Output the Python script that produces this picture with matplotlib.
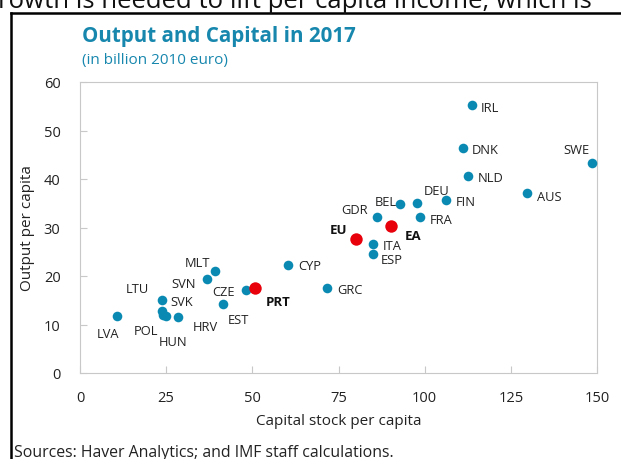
import matplotlib
matplotlib.use("Agg")
import matplotlib.pyplot as plt
from matplotlib.lines import Line2D

plt.rcParams['font.family'] = ['Open Sans', 'DejaVu Sans']

# data (billion 2010 euro per capita)
countries = ['LVA', 'LTU', 'SVK', 'POL', 'HUN', 'HRV', 'SVN', 'MLT', 'EST', 'CZE',
             'CYP', 'GRC', 'IRL', 'DNK', 'SWE', 'NLD', 'AUS', 'FIN', 'DEU', 'BEL',
             'GDR', 'FRA', 'ITA', 'ESP']
capital = [10.7, 23.7, 23.9, 24.1, 25.0, 28.5, 36.8, 39.2, 41.4, 48.1,
           60.4, 71.8, 113.6, 111.0, 148.5, 112.7, 129.7, 106.1, 97.8, 92.9,
           86.3, 98.7, 85.0, 85.0]
output = [11.8, 15.1, 12.8, 12.0, 11.8, 11.5, 19.3, 21.0, 14.3, 17.2,
          22.3, 17.5, 55.3, 46.3, 43.4, 40.6, 37.1, 35.7, 35.1, 34.8,
          32.1, 32.2, 26.5, 24.6]

aggregates = ['PRT', 'EU', 'EA']
agg_capital = [50.8, 80.0, 90.3]
agg_output = [17.5, 27.7, 30.4]

# label offsets in pixels (dx right, dy down)
offsets = {
    'LVA': (-9, 18), 'LTU': (-24, -11), 'SVK': (19, -9), 'POL': (-17, 16),
    'HUN': (7, 26), 'HRV': (27, 9), 'SVN': (-23, 4), 'MLT': (-18, -9),
    'EST': (16, 16), 'CZE': (-22, 2), 'CYP': (22, 1), 'GRC': (22, 1),
    'IRL': (18, 3), 'DNK': (23, 1), 'SWE': (-15, -13), 'NLD': (22, 1),
    'AUS': (22, 3), 'FIN': (20, 2), 'DEU': (20, -12), 'BEL': (-14, -3),
    'GDR': (-23, -8), 'FRA': (21, 3), 'ITA': (19, 1), 'ESP': (19, 6),
    'PRT': (23, 13), 'EU': (-17, -9), 'EA': (22, 10),
}

blue = '#0a8ab3'
red = '#e8000b'

fig = plt.figure(figsize=(6.21, 4.60), dpi=100)
ax = fig.add_axes([80 / 621, 1 - 374 / 460, 517 / 621, 291 / 460])

ax.scatter(capital, output, s=48, color=blue, zorder=3, linewidths=0)
ax.scatter(agg_capital, agg_output, s=80, color=red, zorder=4, linewidths=0)

px = 0.72  # points per pixel
for name, x, y in zip(countries, capital, output):
    dx, dy = offsets[name]
    ax.annotate(name, (x, y), xytext=(dx * px, -dy * px), textcoords='offset points',
                ha='center', va='center', fontsize=9.3, color='#222222')
for name, x, y in zip(aggregates, agg_capital, agg_output):
    dx, dy = offsets[name]
    ax.annotate(name, (x, y), xytext=(dx * px, -dy * px), textcoords='offset points',
                ha='center', va='center', fontsize=9.5, fontweight='bold', color='#111111')

ax.set_xlim(0, 150)
ax.set_ylim(0, 60)
ax.set_xticks(range(0, 151, 25))
ax.set_yticks(range(0, 61, 10))
for s in ax.spines.values():
    s.set_color('#c8c8c8')
ax.tick_params(direction='in', length=5, color='#c8c8c8', labelsize=10.5,
               labelcolor='#222222', pad=12)
ax.tick_params(axis='y', pad=14)
ax.set_xlabel('Capital stock per capita', fontsize=11, color='#222222', labelpad=6)
ax.set_ylabel('Output per capita', fontsize=11, color='#222222', labelpad=6)

fig.text(82 / 621, 1 - 42 / 460, 'Output and Capital in 2017', fontsize=14.8,
         fontweight='bold', color='#1787ae')
fig.text(82 / 621, 1 - 64 / 460, '(in billion 2010 euro)', fontsize=11, color='#1787ae')
fig.text(14 / 621, 1 - 457 / 460, 'Sources: Haver Analytics; and IMF staff calculations.',
         fontsize=11.4, color='#222222')

# document text cut off at the top and the box border
fig.text(-16 / 621, 1 - 8 / 460, 'growth is needed to lift per capita income, which is',
         fontsize=18.5, color='#111111')
fig.add_artist(Line2D([11 / 621, 11 / 621], [0, 1 - 14 / 460], color='black', lw=1.8,
                      transform=fig.transFigure))
fig.add_artist(Line2D([11 / 621, 1], [1 - 14 / 460, 1 - 14 / 460], color='black', lw=1.8,
                      transform=fig.transFigure))

fig.savefig('out.png', dpi=100)
